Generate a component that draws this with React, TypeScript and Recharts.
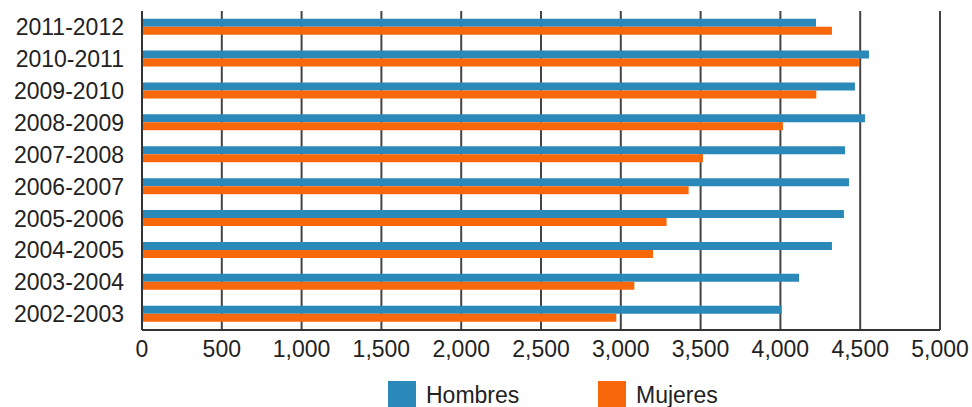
import React from "react";
import { BarChart, Bar, XAxis, YAxis, CartesianGrid } from "recharts";

// Periodos académicos, de arriba hacia abajo
const periods = [
  "2011-2012",
  "2010-2011",
  "2009-2010",
  "2008-2009",
  "2007-2008",
  "2006-2007",
  "2005-2006",
  "2004-2005",
  "2003-2004",
  "2002-2003",
];

const hombres = [4223, 4555, 4467, 4530, 4405, 4430, 4398, 4323, 4117, 4008];
const mujeres = [4323, 4492, 4225, 4016, 3515, 3425, 3287, 3202, 3085, 2972];

const xTicks = [0, 500, 1000, 1500, 2000, 2500, 3000, 3500, 4000, 4500, 5000];

const BLUE = "#2a89b8";
const ORANGE = "#f8680a";
const FONT = "'Liberation Sans', Arial, Helvetica, sans-serif";

const data = periods.map((period, i) => ({
  period,
  hombres: hombres[i],
  mujeres: mujeres[i],
}));

const legendItems = [
  { label: "Hombres", color: BLUE, left: 388 },
  { label: "Mujeres", color: ORANGE, left: 598 },
];

export default function App() {
  return (
    <div
      style={{
        position: "absolute",
        left: 0,
        top: 0,
        width: 972,
        height: 407,
        overflow: "hidden",
        background: "#fff",
        fontFamily: FONT,
      }}
    >
      <BarChart
        width={972}
        height={407}
        data={data}
        layout="vertical"
        margin={{ top: 11, right: 32, bottom: 47, left: 0 }}
        barCategoryGap="24%"
        barGap={0}
      >
        <CartesianGrid horizontal={false} stroke="#444" strokeWidth={2} />
        <XAxis
          type="number"
          domain={[0, 5000]}
          ticks={xTicks}
          height={30}
          tickSize={0}
          tickMargin={11}
          tickFormatter={(v: number) => v.toLocaleString("en-US")}
          axisLine={{ stroke: "#333", strokeWidth: 2 }}
          tick={{ fill: "#222", fontSize: 23, fontFamily: FONT }}
        />
        {/* borde superior del área de trazado */}
        <XAxis
          xAxisId="top"
          orientation="top"
          type="number"
          domain={[0, 5000]}
          height={0}
          tick={false}
          tickLine={false}
          axisLine={{ stroke: "#333", strokeWidth: 2 }}
        />
        <YAxis
          type="category"
          dataKey="period"
          width={142}
          tickSize={0}
          tickMargin={18}
          tickLine={false}
          axisLine={{ stroke: "#333", strokeWidth: 2 }}
          tick={{ fill: "#222", fontSize: 23, fontFamily: FONT }}
        />
        <Bar dataKey="hombres" name="Hombres" fill={BLUE} isAnimationActive={false} />
        <Bar dataKey="mujeres" name="Mujeres" fill={ORANGE} isAnimationActive={false} />
      </BarChart>
      {legendItems.map((item) => (
        <div key={item.label}>
          <div
            style={{
              position: "absolute",
              left: item.left,
              top: 381,
              width: 28,
              height: 26,
              background: item.color,
            }}
          />
          <div
            style={{
              position: "absolute",
              left: item.left + 38,
              top: 384,
              fontSize: 23,
              lineHeight: "23px",
              color: "#222",
              whiteSpace: "nowrap",
            }}
          >
            {item.label}
          </div>
        </div>
      ))}
    </div>
  );
}
